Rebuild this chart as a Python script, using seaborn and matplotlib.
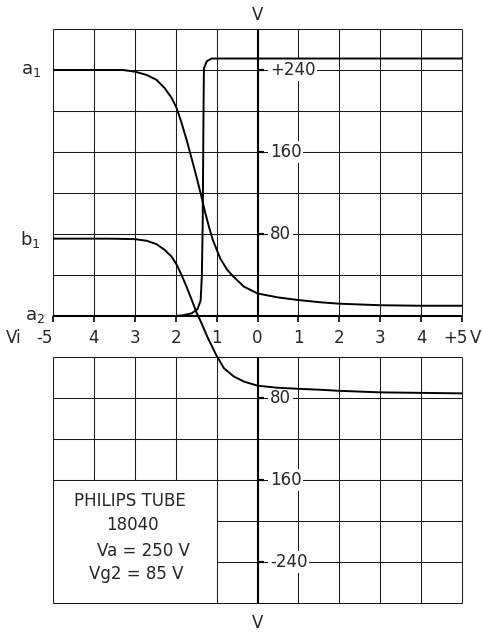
import matplotlib
matplotlib.use("Agg")
import matplotlib.pyplot as plt
import seaborn as sns
import pandas as pd

# transfer curves: input Vi (V) -> output (V)
vi_a1 = [-5, -4, -3.29, -3.0, -2.71, -2.47, -2.27, -2.10, -1.98, -1.86, -1.72, -1.60,
         -1.50, -1.38, -1.28, -1.18, -1.09, -0.91, -0.74, -0.58, -0.33, 0, 0.49, 0.99,
         1.56, 2, 3, 4, 5]
v_a1 = [240, 240, 240, 238.4, 235.2, 230.4, 222.4, 212.8, 203.2, 188.8, 170, 152,
        137, 118, 101, 86, 74, 56, 45, 38, 28.6, 22, 18.2, 15.6,
        13.3, 12, 10.5, 10, 10]

vi_a2 = [-5, -3, -2.0, -1.82, -1.61, -1.47, -1.39, -1.36, -1.34, -1.32, -1.31, -1.24,
         -1.12, -0.67, 0, 5]
v_a2 = [0, 0, 0, 0.7, 2.6, 6.6, 15, 40, 90, 200, 241.6, 248.6,
        251.2, 251.2, 251.2, 251.2]

vi_b1 = [-5, -4, -3.5, -3.0, -2.71, -2.47, -2.27, -2.10, -1.98, -1.86, -1.73, -1.61,
         -1.49, -1.38, -1.23, -1.01, -0.82, -0.58, -0.33, 0, 0.49, 0.99, 1.56, 2, 3, 4, 5]
v_b1 = [75.5, 75.5, 75.4, 75, 73.4, 70.1, 64.5, 57.9, 50.3, 40.3, 28.1, 15.9,
        3.3, -6, -20, -38, -51, -59, -64, -68, -70, -71, -72, -73, -74.5, -75, -75.5]

x_ticks = [-5, -4, -3, -2, -1, 0, 1, 2, 3, 4, 5]
x_labels = ["-5", "4", "3", "2", "1", "0", "1", "2", "3", "4", "+5"]
y_ticks = [240, 160, 80, -80, -160, -240]
y_labels = ["+240", "160", "80", "80", "160", "-240"]
info_lines = ["PHILIPS TUBE", "18040", "Va = 250 V", "Vg2 = 85 V"]

sns.set_style("white")
plt.rcParams['font.family'] = ['DejaVu Sans']

df = pd.concat([
    pd.DataFrame({'vi': vi_a1, 'v': v_a1, 'curve': 'a1'}),
    pd.DataFrame({'vi': vi_a2, 'v': v_a2, 'curve': 'a2'}),
    pd.DataFrame({'vi': vi_b1, 'v': v_b1, 'curve': 'b1'}),
])

fig = plt.figure(figsize=(4.83, 6.32), dpi=100)
ax = fig.add_axes([53 / 483, 29 / 632, 409 / 483, 574 / 632])

sns.lineplot(data=df, x='vi', y='v', hue='curve', palette=['black'] * 3,
             estimator=None, sort=False, legend=False, lw=1.4, ax=ax, zorder=3)

ax.set_xlim(-5, 5)
ax.set_ylim(-280, 280)
ax.axis('off')

# grid paper, with the label strip (0..-40) and the info box left blank
grid = dict(color='#1a1a1a', lw=0.75, zorder=1, clip_on=False)
for x in x_ticks:
    if x == 0:
        continue
    ax.vlines(x, 0, 280, **grid)
    lo = -160 if x in (-4, -3, -2) else -280
    ax.vlines(x, lo, -40, **grid)
for y in range(-280, 281, 40):
    if y == 0:
        continue
    xmin = -1 if y in (-200, -240) else -5
    ax.hlines(y, xmin, 5, **grid)

# main axes
axis_kw = dict(color='black', zorder=2, clip_on=False)
ax.hlines(0, -5, 5, lw=1.5, **axis_kw)
ax.vlines(0, 0, 280, lw=1.5, **axis_kw)
ax.vlines(0, -280, -40, lw=1.5, **axis_kw)
ax.vlines(x_ticks, -6, 0, lw=1.2, **axis_kw)
ax.hlines(y_ticks, 0, 0.17, lw=1.6, **axis_kw)

fs = 12
for y, lab in zip(y_ticks, y_labels):
    ax.text(0.3, y, lab, ha='left', va='center', fontsize=fs, zorder=2.5,
            bbox=dict(fc='white', ec='none', pad=1.5))

for x, lab in zip(x_ticks, x_labels):
    xx = x
    if lab == "-5":
        xx = -5.2
    elif lab == "+5":
        xx = 4.85
    ax.text(xx, -21, lab, ha='center', va='center', fontsize=fs)

ax.text(-5.96, -21, "Vi", ha='center', va='center', fontsize=fs)
ax.text(5.33, -21, "V", ha='center', va='center', fontsize=fs)
ax.text(0, 294, "V", ha='center', va='center', fontsize=fs)
ax.text(0, -299.5, "V", ha='center', va='center', fontsize=fs)

ax.text(-5.3, 240, r"a$_\mathregular{1}$", ha='right', va='center', fontsize=fs + 1)
ax.text(-5.3, 75, r"b$_\mathregular{1}$", ha='right', va='center', fontsize=fs + 1)
ax.text(-5.2, 0, r"a$_\mathregular{2}$", ha='right', va='center', fontsize=fs + 1)

info_pos = [(-3.11, -180), (-3.05, -204), (-2.78, -229), (-2.97, -252)]
for (x, y), line in zip(info_pos, info_lines):
    ax.text(x, y, line, ha='center', va='center', fontsize=fs)

fig.savefig('out.png', dpi=100)
